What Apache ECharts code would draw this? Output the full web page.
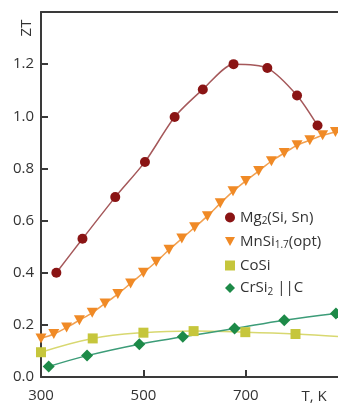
<!DOCTYPE html>
<html>
<head>
<meta charset="utf-8">
<script src="https://cdn.jsdelivr.net/npm/echarts@6/dist/echarts.min.js"></script>
<style>
  html, body { margin: 0; padding: 0; background: #fff; }
  #chart { width: 338px; height: 404px; }
</style>
</head>
<body>
<div id="chart"></div>
<script>
// temperatures (K) and ZT
let mgT  = [330, 381, 445, 503, 561, 616, 676, 742, 800, 840];
let mgZT = [0.40, 0.53, 0.69, 0.825, 0.997, 1.103, 1.20, 1.185, 1.08, 0.965];

let mnT  = [300, 325, 350, 375, 400, 425, 450, 475, 500, 525, 550, 575,
            600, 625, 650, 675, 700, 725, 750, 775, 800, 825, 850, 875];
let mnZT = [0.148, 0.165, 0.19, 0.218, 0.246, 0.282, 0.318, 0.359, 0.40, 0.442, 0.488, 0.531,
            0.574, 0.617, 0.666, 0.712, 0.752, 0.79, 0.828, 0.859, 0.889, 0.908, 0.927, 0.94];

let coT  = [300, 401, 500, 598, 699, 797];
let coZT = [0.095, 0.148, 0.17, 0.176, 0.172, 0.165];
let coTail = [880, 0.155]; // fit line keeps going past last square

let crT  = [315, 390, 492, 577, 678, 775, 876];
let crZT = [0.04, 0.082, 0.126, 0.154, 0.186, 0.218, 0.244];

let xLabels = [300, 500, 700];
let yLabels = [0, 0.2, 0.4, 0.6, 0.8, 1.0, 1.2];

let names = ['Mg2(Si, Sn)', 'MnSi1.7(opt)', 'CoSi', 'CrSi2 ||C'];
let legendText = {
  'Mg2(Si, Sn)': '{n|Mg}{s|2}{n|(Si, Sn)}',
  'MnSi1.7(opt)': '{n|MnSi}{s|1.7}{n|(opt)}',
  'CoSi': '{n|CoSi}',
  'CrSi2 ||C': '{n|CrSi}{s|2}{n| ||C}'
};

function pairs(xs, ys) {
  return xs.map(function (x, i) { return [x, ys[i]]; });
}

let font = '"Open Sans", "Noto Sans", sans-serif';
let axisColor = '#3a3a3a';
let triDown = 'path://M0,0 L10,0 L5,9 Z';

let chart = echarts.init(document.getElementById('chart'));

let option = {
  backgroundColor: '#fff',
  animation: false,
  textStyle: { fontFamily: font },
  grid: { left: 41, right: 0, top: 12, bottom: 26 },
  legend: {
    orient: 'vertical',
    left: 220,
    top: 205,
    itemWidth: 10,
    itemHeight: 10,
    itemGap: 7.5,
    data: [
      { name: names[0], icon: 'circle' },
      { name: names[1], icon: triDown },
      { name: names[2], icon: 'rect' },
      { name: names[3], icon: 'diamond' }
    ],
    formatter: function (name) { return legendText[name]; },
    textStyle: {
      fontFamily: font,
      rich: {
        n: { fontSize: 15, color: '#333', lineHeight: 18, fontFamily: font },
        s: { fontSize: 10, color: '#333', lineHeight: 9, verticalAlign: 'bottom', fontFamily: font }
      }
    }
  },
  xAxis: [
    {
      type: 'value',
      min: 300,
      max: 880,
      interval: 200,
      name: 'T, K',
      nameLocation: 'end',
      nameGap: -24,
      nameTextStyle: { color: '#333', fontSize: 15, align: 'center', verticalAlign: 'top', padding: [12, 0, 0, 0] },
      splitLine: { show: false },
      axisLine: { lineStyle: { color: axisColor, width: 2 } },
      axisTick: { inside: true, length: 7, lineStyle: { color: axisColor, width: 2 }, customValues: [500, 700] },
      axisLabel: { color: '#333', fontSize: 15, margin: 11, customValues: xLabels }
    },
    {
      type: 'value',
      position: 'top',
      min: 300,
      max: 880,
      splitLine: { show: false },
      axisLine: { lineStyle: { color: axisColor, width: 2 } },
      axisTick: { show: false },
      axisLabel: { show: false }
    }
  ],
  yAxis: {
    type: 'value',
    min: 0,
    max: 1.4,
    interval: 0.2,
    name: 'ZT',
    nameLocation: 'end',
    nameRotate: 90,
    nameGap: -16,
    nameTextStyle: { color: '#333', fontSize: 15, align: 'center', verticalAlign: 'bottom', padding: [0, 0, 7, 0] },
    splitLine: { show: false },
    axisLine: { lineStyle: { color: axisColor, width: 2 } },
    axisTick: { inside: true, length: 7, lineStyle: { color: axisColor, width: 2 }, customValues: yLabels.slice(1) },
    axisLabel: {
      color: '#333',
      fontSize: 15,
      margin: 7,
      customValues: yLabels,
      formatter: function (v) { return v.toFixed(1); }
    }
  },
  series: [
    {
      name: names[0],
      type: 'line',
      smooth: 0.25,
      data: pairs(mgT, mgZT),
      symbol: 'circle',
      symbolSize: 10,
      itemStyle: { color: '#8a1414' },
      lineStyle: { color: '#a5585a', width: 1.5 },
      z: 4
    },
    {
      name: names[1],
      type: 'line',
      smooth: 0.3,
      data: pairs(mnT, mnZT),
      symbol: triDown,
      symbolSize: [11, 10],
      itemStyle: { color: '#f08a26' },
      lineStyle: { color: '#f2a050', width: 1.5 },
      z: 3
    },
    {
      name: names[2],
      type: 'line',
      smooth: 0.4,
      data: pairs(coT, coZT).concat([{ value: coTail, symbol: 'none' }]),
      symbol: 'rect',
      symbolSize: 10,
      itemStyle: { color: '#c6c63c' },
      lineStyle: { color: '#d8d870', width: 1.5 },
      z: 2
    },
    {
      name: names[3],
      type: 'line',
      smooth: 0.4,
      data: pairs(crT, crZT),
      symbol: 'diamond',
      symbolSize: 12,
      itemStyle: { color: '#1d8a48' },
      lineStyle: { color: '#3c9c78', width: 1.5 },
      z: 2
    }
  ]
};

chart.setOption(option);
</script>
</body>
</html>
